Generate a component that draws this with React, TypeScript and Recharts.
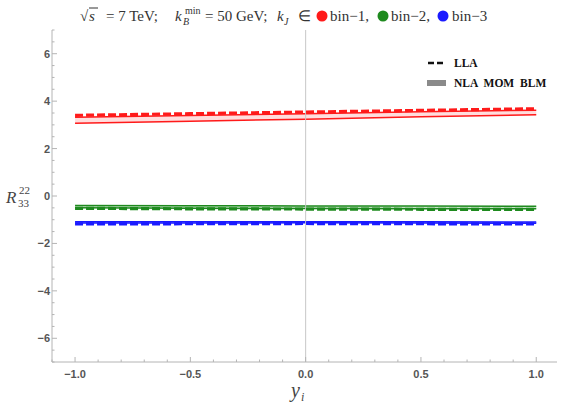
import React from "react";
import {
  ComposedChart,
  Area,
  Line,
  XAxis,
  YAxis,
  ReferenceLine,
} from "recharts";

// rapidity values
const yi = [-1, -0.5, 0, 0.5, 1];

// LLA predictions per bin
const llaBin1 = [3.4, 3.47, 3.54, 3.61, 3.68];
const llaBin2 = [-0.52, -0.54, -0.55, -0.56, -0.56];
const llaBin3 = [-1.18, -1.17, -1.16, -1.17, -1.18];

// NLA MOM BLM uncertainty bands (low / high)
const nlaBin1Low = [3.07, 3.15, 3.24, 3.34, 3.43];
const nlaBin1High = [3.32, 3.39, 3.47, 3.55, 3.62];
const nlaBin2Low = [-0.5, -0.52, -0.53, -0.54, -0.54];
const nlaBin2High = [-0.4, -0.41, -0.42, -0.42, -0.43];
const nlaBin3Low = [-1.14, -1.14, -1.13, -1.14, -1.15];
const nlaBin3High = [-1.09, -1.09, -1.09, -1.09, -1.1];

const xLabelTicks = [-1, -0.5, 0, 0.5, 1];
const yLabelTicks = [-6, -4, -2, 0, 2, 4, 6];

const X_DOMAIN: [number, number] = [-1.1, 1.09];
const Y_DOMAIN: [number, number] = [-7, 7];

const RED = "#ff1a1a";
const GREEN = "#1e8a1e";
const BLUE = "#1a1aff";
const FRAME = "#b4b4b4";
const TICK_TEXT = "#555";

const data = yi.map((x, i) => ({
  x,
  lla1: llaBin1[i],
  lla2: llaBin2[i],
  lla3: llaBin3[i],
  nla1: [nlaBin1Low[i], nlaBin1High[i]],
  nla2: [nlaBin2Low[i], nlaBin2High[i]],
  nla3: [nlaBin3Low[i], nlaBin3High[i]],
}));

const round = (v: number) => Math.round(v * 1000) / 1000;

// minor tick positions
const xTicks: number[] = [];
for (let k = -11; k <= 10; k++) xTicks.push(round(k * 0.1));
const yTicks: number[] = [];
for (let k = -14; k <= 14; k++) yTicks.push(round(k * 0.5));

const isMajor = (v: number, list: number[]) =>
  list.some((t) => Math.abs(t - v) < 1e-6);

const fmt = (v: number, digits: number) => {
  const s = v.toFixed(digits);
  return v < 0 ? "\u2212" + s.slice(1) : s;
};

const tickFont = {
  fontFamily: "Liberation Sans, Arial, sans-serif",
  fontSize: 11,
  fontWeight: 700,
};

function makeXTick(side: "bottom" | "top") {
  return (props: any) => {
    const { x, y, payload } = props;
    const major = isMajor(payload.value, xLabelTicks);
    const len = major ? 5 : 2.5;
    const dir = side === "bottom" ? -1 : 1;
    return (
      <g>
        <line x1={x} x2={x} y1={y} y2={y + dir * len} stroke={FRAME} strokeWidth={1} />
        {side === "bottom" && major && (
          <text x={x} y={y + 16} textAnchor="middle" fill={TICK_TEXT} {...tickFont}>
            {fmt(payload.value, 1)}
          </text>
        )}
      </g>
    );
  };
}

function makeYTick(side: "left" | "right") {
  return (props: any) => {
    const { x, y, payload } = props;
    const major = isMajor(payload.value, yLabelTicks);
    const len = major ? 5 : 2.5;
    const dir = side === "left" ? 1 : -1;
    return (
      <g>
        <line x1={x} x2={x + dir * len} y1={y} y2={y} stroke={FRAME} strokeWidth={1} />
        {side === "left" && major && (
          <text x={x - 2} y={y + 4} textAnchor="end" fill={TICK_TEXT} {...tickFont}>
            {fmt(payload.value, 0)}
          </text>
        )}
      </g>
    );
  };
}

const serif = "Liberation Serif, Times New Roman, serif";

// title, axis labels and legend drawn on top of the chart
function Overlay() {
  const ink = "#333";
  return (
    <svg
      style={{ position: "absolute", left: 0, top: 0, pointerEvents: "none" }}
      width={564}
      height={403}
      fontFamily={serif}
    >
      <g fill={ink} fontSize={15}>
        <text x={80} y={21}>√</text>
        <line x1={89} x2={98} y1={8} y2={8} stroke={ink} strokeWidth={1} />
        <text x={89} y={21} fontStyle="italic">s</text>
        <text x={106} y={21}>= 7 TeV;</text>

        <text x={175} y={21} fontStyle="italic">k</text>
        <text x={183} y={25} fontSize={10} fontStyle="italic">B</text>
        <text x={185} y={14} fontSize={10}>min</text>
        <text x={205} y={21}>= 50 GeV;</text>

        <text x={277} y={21} fontStyle="italic">k</text>
        <text x={284} y={25} fontSize={10} fontStyle="italic">J</text>
        <text x={298} y={21}>∈</text>
        <circle cx={322} cy={16} r={5.5} fill={RED} />
        <text x={330} y={21}>bin−1,</text>
        <circle cx={383} cy={16} r={5.5} fill={GREEN} />
        <text x={391} y={21}>bin−2,</text>
        <circle cx={443} cy={16} r={5.5} fill={BLUE} />
        <text x={452} y={21}>bin−3</text>
      </g>

      <g fill="#444">
        <text x={6} y={203} fontSize={17} fontStyle="italic">R</text>
        <text x={19} y={194} fontSize={11}>22</text>
        <text x={18} y={207} fontSize={11}>33</text>

        <text x={291} y={397} fontSize={20} fontStyle="italic">y</text>
        <text x={301} y={401} fontSize={12} fontStyle="italic">i</text>
      </g>

      <g fontWeight={700} fontSize={11.5} fill="#111">
        <line x1={428} x2={444} y1={63} y2={63} stroke="#111" strokeWidth={2.5} strokeDasharray="6 3" />
        <text x={454} y={67}>LLA</text>
        <rect x={427} y={80} width={19} height={6} fill="#8a8a8a" />
        <text x={454} y={87} wordSpacing={3}>NLA MOM BLM</text>
      </g>
    </svg>
  );
}

export default function App() {
  return (
    <div style={{ position: "absolute", left: 0, top: 0, width: 564, height: 403, background: "#fff" }}>
      <ComposedChart
        width={564}
        height={403}
        data={data}
        margin={{ top: 30, right: 7, bottom: 0, left: 0 }}
      >
        <XAxis
          xAxisId="b"
          dataKey="x"
          type="number"
          domain={X_DOMAIN}
          ticks={xTicks}
          interval={0}
          allowDataOverflow
          height={41}
          tickSize={0}
          tickMargin={0}
          tickLine={false}
          axisLine={{ stroke: FRAME }}
          tick={makeXTick("bottom")}
        />
        <XAxis
          xAxisId="t"
          orientation="top"
          dataKey="x"
          type="number"
          domain={X_DOMAIN}
          ticks={xTicks}
          interval={0}
          allowDataOverflow
          height={0}
          tickSize={0}
          tickMargin={0}
          tickLine={false}
          axisLine={{ stroke: FRAME }}
          tick={makeXTick("top")}
        />
        <YAxis
          yAxisId="l"
          type="number"
          domain={Y_DOMAIN}
          ticks={yTicks}
          interval={0}
          allowDataOverflow
          width={52}
          tickSize={0}
          tickMargin={0}
          tickLine={false}
          axisLine={{ stroke: FRAME }}
          tick={makeYTick("left")}
        />
        <YAxis
          yAxisId="r"
          orientation="right"
          type="number"
          domain={Y_DOMAIN}
          ticks={yTicks}
          interval={0}
          allowDataOverflow
          width={0}
          tickSize={0}
          tickMargin={0}
          tickLine={false}
          axisLine={{ stroke: FRAME }}
          tick={makeYTick("right")}
        />
        <ReferenceLine xAxisId="b" yAxisId="l" x={0} stroke="#c8c8c8" strokeWidth={1} />

        <Area xAxisId="b" yAxisId="l" dataKey="nla1" type="linear" stroke={RED} strokeWidth={1.5} fill={RED} fillOpacity={0.15} isAnimationActive={false} dot={false} activeDot={false} />
        <Area xAxisId="b" yAxisId="l" dataKey="nla2" type="linear" stroke={GREEN} strokeWidth={1.5} fill={GREEN} fillOpacity={0.25} isAnimationActive={false} dot={false} activeDot={false} />
        <Area xAxisId="b" yAxisId="l" dataKey="nla3" type="linear" stroke={BLUE} strokeWidth={1.5} fill={BLUE} fillOpacity={0.25} isAnimationActive={false} dot={false} activeDot={false} />

        <Line xAxisId="b" yAxisId="l" dataKey="lla1" type="linear" stroke={RED} strokeWidth={3.2} strokeDasharray="8 3" dot={false} activeDot={false} isAnimationActive={false} />
        <Line xAxisId="b" yAxisId="l" dataKey="lla2" type="linear" stroke={GREEN} strokeWidth={3.2} strokeDasharray="8 3" dot={false} activeDot={false} isAnimationActive={false} />
        <Line xAxisId="b" yAxisId="l" dataKey="lla3" type="linear" stroke={BLUE} strokeWidth={3.2} strokeDasharray="8 3" dot={false} activeDot={false} isAnimationActive={false} />
      </ComposedChart>
      <Overlay />
    </div>
  );
}
